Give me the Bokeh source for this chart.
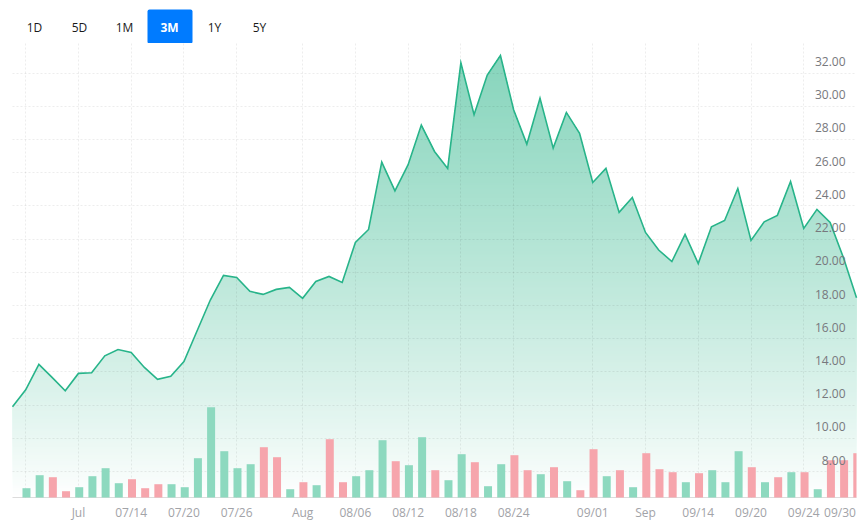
import numpy as np
from bokeh.plotting import figure, ColumnDataSource
from bokeh.layouts import column
from bokeh.models import Range1d, FixedTicker
from bokeh.core.properties import value
from bokeh.embed import file_html
from bokeh.resources import INLINE

prices = [11.9, 12.92, 14.45, 13.67, 12.86, 13.91, 13.95, 14.97, 15.35, 15.17, 14.27, 13.55, 13.73,
          14.63, 16.48, 18.33, 19.81, 19.69, 18.85, 18.67, 18.97, 19.09, 18.43, 19.45, 19.75, 19.39,
          21.8, 22.58, 26.64, 24.91, 26.48, 28.87, 27.28, 26.26, 32.62, 29.49, 31.88, 33.06, 29.79,
          27.72, 30.49, 27.48, 29.63, 28.37, 25.41, 26.26, 23.61, 24.51, 22.4, 21.34, 20.65, 22.28,
          20.53, 22.74, 23.12, 25.05, 21.92, 23.04, 23.43, 25.47, 22.64, 23.79, 23.0, 20.9, 18.46]
volumes = [9.3, 22.3, 20.3, 6.3, 10.3, 21.3, 29.3, 14.3, 18.3, 9.3, 13.3, 13.3, 10.3, 39.3, 90.3, 46.3,
           29.3, 33.3, 50.3, 40.3, 8.3, 15.3, 12.3, 58.3, 15.3, 21.3, 27.3, 57.3, 36.3, 32.3, 60.3,
           27.3, 17.3, 43.3, 35.3, 11.3, 33.3, 42.3, 27.3, 23.3, 30.3, 16.3, 7.3, 48.3, 21.3, 27.3, 10.3,
           44.3, 28.3, 25.3, 15.3, 24.3, 27.3, 15.3, 46.3, 30.3, 15.3, 20.3, 25.3, 25.3, 8.3, 37.3, 37.3, 44.3]
directions = ["g","g","r","r","g","g","g","g","r","r","r","g","g","g","g","g","g","g","r","r","g","r","g","r","r","g","g","g","r","g","g",
              "r","g","g","r","g","g","r","r","g","r","g","r","r","g","r","g","r","r","r","g","r","g","g","g","r","g","r","g","r","g","r","r","r"]
y_ticks = [8, 10, 12, 14, 16, 18, 20, 22, 24, 26, 28, 30, 32]
y_labels = ["%.2f" % t for t in y_ticks]
grid_ticks = [1, 5, 9, 13, 17, 22, 26, 30, 34, 38, 44, 48, 52, 56, 60, 64]
label_ticks = [5, 9, 13, 17, 22, 26, 30, 34, 38, 44, 48, 52, 56, 60, 62.75]
x_labels = ["Jul", "07/14", "07/20", "07/26", "Aug", "08/06", "08/12", "08/18", "08/24",
            "09/01", "Sep", "09/14", "09/20", "09/24", "09/30"]
buttons = ["1D", "5D", "1M", "3M", "1Y", "5Y"]
active_button = "3M"

FRAME_H = 454
y_lo, y_hi = 6.434, 33.783
FONT = "Open Sans"
GREEN, RED = "#8dd9bf", "#f6a5ac"
LINE = "#28b48a"

b = figure(width=860, height=43, output_backend="svg", toolbar_location=None,
           x_range=Range1d(12, 856), y_range=Range1d(43, 0),
           min_border_left=12, min_border_right=4, min_border_top=0, min_border_bottom=0,
           outline_line_color=None)
b.axis.visible = False
b.grid.visible = False
b.quad(left=147, right=192, top=9, bottom=43, fill_color="#007bff", line_color=None, border_radius=2)
bx = 34 + 45 * np.arange(len(buttons))
b.text(x=bx, y=[27] * len(buttons), text=buttons, text_align="center", text_baseline="middle",
       text_font=value(FONT), text_font_size="12px",
       text_font_style=["bold" if t == active_button else "normal" for t in buttons],
       text_color=["#ffffff" if t == active_button else "#1a1a1a" for t in buttons])

p = figure(width=860, height=480, output_backend="svg", toolbar_location=None,
           x_range=Range1d(0, 64), y_range=Range1d(y_lo, y_hi),
           min_border_left=12, min_border_right=4, min_border_top=0, min_border_bottom=18,
           outline_line_color=None, background_fill_color="white")
p.extra_y_ranges = {"vol": Range1d(0, FRAME_H)}

p.yaxis.visible = False
p.ygrid.ticker = FixedTicker(ticks=y_ticks)
p.xgrid.ticker = FixedTicker(ticks=grid_ticks)
for g in (p.xgrid, p.ygrid):
    g.grid_line_color = "black"
    g.grid_line_alpha = 0.07
    g.grid_line_dash = "2 2"
    g.level = "guide"
p.xaxis.ticker = FixedTicker(ticks=label_ticks)
p.xaxis.major_label_overrides = dict(zip(label_ticks, x_labels))
p.xaxis.major_tick_line_color = None
p.xaxis.minor_tick_line_color = None
p.xaxis.major_tick_out = 0
p.xaxis.major_tick_in = 0
p.xaxis.minor_tick_out = 0
p.xaxis.axis_line_color = "#dcdcdc"
p.xaxis.major_label_standoff = 6
p.xaxis.major_label_text_font = FONT
p.xaxis.major_label_text_font_size = "12px"
p.xaxis.major_label_text_color = "#a2a3a8"

# gradient area: opaque bands painted bottom-up, each reaching up to the line
k = np.arange(len(prices), dtype=float)
v = np.array(prices)
px = (y_hi - y_lo) / FRAME_H
levels = y_lo + np.arange(0, FRAME_H, 3) * px
vmax = v.max()
base = np.array([31, 176, 130])
xs, ys, cols = [], [], []
for L in levels:
    if L >= vmax:
        break
    idx = np.where((v[:-1] - L) * (v[1:] - L) < 0)[0]
    xx = np.unique(np.concatenate([k, k[idx] + (L - v[idx]) / (v[idx + 1] - v[idx])]))
    top = np.maximum(np.interp(xx, k, v), L)
    xs.append(np.concatenate([xx, xx[::-1]]).round(4).tolist())
    ys.append(np.concatenate([top, np.full(len(xx), L)]).round(4).tolist())
    a = 0.54 * ((L - y_lo) / (vmax - y_lo)) ** 0.85
    r, g_, bl = (255 - (255 - base) * a).round().astype(int)
    cols.append("#%02x%02x%02x" % (r, g_, bl))
p.patches(xs="xs", ys="ys", fill_color="c", line_color=None,
          source=ColumnDataSource(dict(xs=xs, ys=ys, c=cols)))

bar_x = np.arange(1, len(volumes) + 1) + 0.06
p.vbar(x=bar_x, top=volumes, bottom=0, width=8 / 13.19, y_range_name="vol", level="annotation",
       fill_color=[GREEN if d == "g" else RED for d in directions], line_color=None)

p.line(k, v, line_color=LINE, line_width=1.6, line_join="miter", level="annotation")

lx = np.full(len(y_ticks), 64.0)
p.text(x=lx, y=y_ticks, text=y_labels, x_offset=-11, y_offset=-7, text_align="right", text_baseline="bottom",
       text_font=value(FONT), text_font_size="12px", text_color="#77787d", level="annotation")

open("out.html", "w").write(file_html(column(b, p, spacing=0), INLINE))
